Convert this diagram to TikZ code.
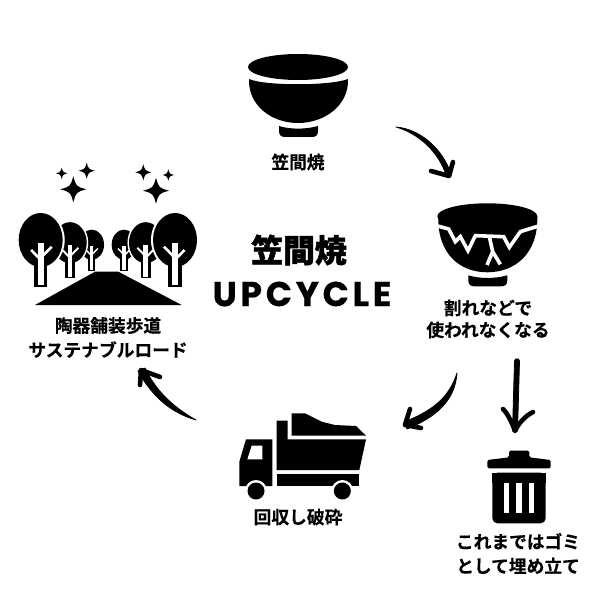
\documentclass[tikz,border=0pt]{standalone}
\usepackage{fontspec}
\setmainfont{Liberation Sans}
\newfontfamily\cjkbold[FakeBold=0.4]{Noto Sans CJK JP Bold}
\newfontfamily\cjkblack[FakeBold=1.5]{Noto Sans CJK JP Black}
\newfontfamily\latinhead[LetterSpace=11,FakeBold=0.6]{Poppins Bold}
\tikzset{
  lab/.style={font=\cjkbold\fontsize{17.8}{22}\selectfont,align=center,inner sep=0pt,text=black},
  brush/.style={draw=black,line width=4.6bp,line cap=round,line join=round},
  taper/.style={fill=black,draw=black,line width=0.8bp,line join=round},
  zoomed/.style={x=0.33333bp,y=-0.33333bp}
}
\newcommand{\bowlbase}{%
  \fill (298,67) ellipse [x radius=50,y radius=13];
  \fill (279,126) .. controls (290,129.5) and (306,129.5) .. (318,126) -- (318,131) .. controls (318,135) and (316,137) .. (312,137) -- (285,137) .. controls (281,137) and (279,135) .. (279,131) -- cycle;
}
\newcommand{\startree}[3]{%
  \fill (#1,#2-#3) .. controls (#1+0.22*#3,#2-0.22*#3) .. (#1+#3,#2) .. controls (#1+0.22*#3,#2+0.22*#3) .. (#1,#2+#3) .. controls (#1-0.22*#3,#2+0.22*#3) .. (#1-#3,#2) .. controls (#1-0.22*#3,#2-0.22*#3) .. cycle;
}
\newcommand{\tree}[4]{% x y scale xscale-sign
  \begin{scope}[shift={(#1bp,-#2bp)},xscale=#4*#3,yscale=#3]
    \fill[white] (0,0) ellipse [x radius=24,y radius=29];
    \fill[white] (-8.2,20) rectangle (8.2,48.5);
    \fill (0,0) ellipse [x radius=22,y radius=27];
    \fill (-6.7,20) rectangle (6.7,47);
    \fill[white] (-3,3) rectangle (3,44.5);
    \draw[white,line width=2.6bp*#3] (-9.5,10) -- (1,21) (11,6.7) -- (0,18);
  \end{scope}
}
\begin{document}
\begin{tikzpicture}[x=1bp,y=-1bp]
\useasboundingbox (0,0) rectangle (600,600);
\fill[white] (0,0) rectangle (600,600);

% bowl
\bowlbase
\fill (249,79) .. controls (265,86) and (330,86) .. (348,79)
  .. controls (349,105) and (325,123) .. (298,123)
  .. controls (271,123) and (248,105) .. (249,79) -- cycle;

% cracked bowl
\begin{scope}[shift={(189.3bp,-149.3bp)}]
  \bowlbase
  \fill (249,67) .. controls (248,105) and (271,123) .. (298,123)
    .. controls (325,123) and (349,105) .. (348,67) -- cycle;
\end{scope}
\begin{scope}[shift={(432bp,-205bp)},zoomed]
  \draw[white,line width=3.6bp,line join=miter] (5,60) -- (50,72) -- (70,110) -- (85,95) -- (108,137) -- (130,92) -- (215,95) -- (232,127) -- (265,80) -- (320,63);
  \draw[white,line width=3.6bp,line join=miter] (172,95) -- (182,140) -- (165,180) (182,140) -- (205,178);
\end{scope}

% stars
\startree{73.3}{189.3}{13}
\startree{61.7}{173.3}{5.7}
\startree{86.7}{170.7}{8}
\startree{143.3}{172.3}{8}
\startree{168.3}{175}{5.7}
\startree{156}{190.7}{13}

% trees
\tree{91.7}{244.7}{0.56}{1}
\tree{124}{244.7}{0.56}{-1}
\tree{70}{242.7}{0.76}{1}
\tree{145.7}{242.7}{0.76}{-1}
\tree{40.7}{240}{1}{1}
\tree{175}{240}{1}{-1}
\fill (35,305) -- (95,271.7) -- (118.3,271.7) -- (181.7,305) -- cycle;

% truck
\begin{scope}[shift={(220bp,-400bp)},zoomed]
  \fill (215,40) -- (255,40) -- (305,65) -- (345,75) -- (408,78) -- (438,107) -- (215,107) -- cycle;
  \fill (170,62) -- (203,62) -- (203,118) -- (438,118) -- (418,210) -- (170,210) -- cycle;
  \fill (170,223) rectangle (418,258);
  \fill (78,118) -- (157,118) -- (157,258) -- (58,258) -- (58,185) -- cycle;
  \fill[white] (95,137) -- (127,137) -- (127,178) -- (82,178) -- cycle;
  \fill[white] (108,273) circle [radius=11bp];
  \fill[white] (367,273) circle [radius=11bp];
  \fill (108,273) circle [radius=8.5bp];
  \fill (367,273) circle [radius=8.5bp];
\end{scope}

% bin
\begin{scope}[shift={(440bp,-350bp)},zoomed]
  \fill[rounded corners=1.5bp] (142,355) -- (142,330) -- (207,322) -- (207,302) -- (268,302) -- (268,322) -- (332,330) -- (332,355) -- cycle;
  \fill[rounded corners=5bp] (157,368) -- (317,368) -- (317,520) -- (157,520) -- cycle;
  \fill (157,368) rectangle (317,400);
  \fill[white] (192,400) rectangle (207,488);
  \fill[white] (229,400) rectangle (245,488);
  \fill[white] (267,400) rectangle (282,488);
\end{scope}

% labels
\node[lab] (l1) at (298,162) {笠間焼};
\node[lab] (l2) at (488,319) {割れなどで\\使われなくなる};
\node[lab] (l3) at (298,517) {回収し破砕};
\node[lab,font=\cjkbold\fontsize{17.8}{24.5}\selectfont] (l4) at (108,337.5) {陶器舗装歩道\\サステナブルロード};
\node[lab,font=\cjkbold\fontsize{17.8}{24.5}\selectfont] (l5) at (518,553.5) {これまではゴミ\\として埋め立て};
\node[inner sep=0pt,font=\cjkblack\fontsize{32}{32}\selectfont] (t1) at (299,250) {笠間焼};
\node[inner sep=0pt,font=\latinhead\fontsize{34.5}{34.5}\selectfont] (t2) at (302,294) {UPCYCLE};

% arrows
\coordinate (a1s) at (396,127);
\coordinate (a1e) at (449,176);
\fill[taper] (a1s) .. controls (417,133) and (438,150) .. (446.5,176) -- (451.5,175) .. controls (442,147) and (419,129) .. (a1s) -- cycle;
\draw[brush] (431,171) -- (a1e) -- (453,162);

\coordinate (a2s) at (457,373);
\coordinate (a2e) at (405,425);
\fill[taper] (a2s) .. controls (449,398) and (432,411) .. (404,422) -- (407,429) .. controls (436,417) and (455,401) .. (a2s) -- cycle;
\draw[brush] (410,409) -- (a2e) -- (421,428);

\coordinate (a3s) at (517,360);
\coordinate (a3e) at (515,431);
\fill[taper] (514.5,361) .. controls (515,358) and (519,358) .. (519.5,361) -- (517.5,431) -- (512.5,431) -- cycle;
\draw[brush] (503,409) .. controls (508,414) and (512,423) .. (a3e) .. controls (518,424) and (525,416) .. (533,412);

\coordinate (a4s) at (196,420);
\coordinate (a4e) at (141,370);
\fill[taper] (a4s) .. controls (172,413) and (153,398) .. (138,371) -- (145,368) .. controls (157,393) and (175,408) .. (a4s) -- cycle;
\draw[brush] (140,385) -- (a4e) -- (160,377);
\end{tikzpicture}
\end{document}
